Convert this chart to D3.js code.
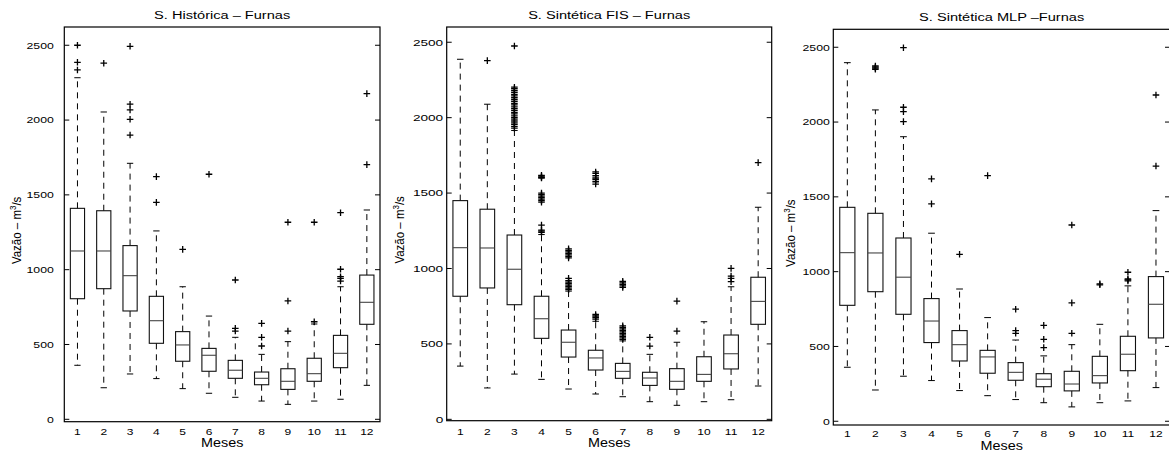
<!DOCTYPE html>
<html><head><meta charset="utf-8">
<script src="https://cdn.jsdelivr.net/npm/d3@7"></script>
<style>
html,body{margin:0;padding:0;background:#fff;}
svg{display:block;font-family:"Liberation Sans",Arial,Helvetica,sans-serif;}
</style></head>
<body>
<svg id="chart" width="1169" height="452"></svg>
<script>
// ---------- data ----------
const months = [1,2,3,4,5,6,7,8,9,10,11,12];
const yTicks = [0,500,1000,1500,2000,2500];
const titles = ["S. Histórica – Furnas", "S. Sintética FIS – Furnas", "S. Sintética MLP –Furnas"];
const xLabel = "Meses";

// Série histórica
const histLow  = [361,211,303,272,205,174,147,122,100,122,134,227];
const histQ1   = [806,873,724,508,388,321,274,231,200,254,345,635];
const histMed  = [1125,1125,960,659,497,428,328,274,254,305,441,782];
const histQ3   = [1410,1394,1161,822,586,474,394,316,338,408,561,964];
const histHigh = [2283,2054,1711,1259,886,690,548,434,519,637,886,1399];
const histOut  = [
  [2335,2386,2500],[2380],[1900,2005,2068,2106,2493],[1450,1622],[1136],[1638],
  [590,608,931],[490,548,641],[590,791,1317],[652,1317],[924,942,953,1003,1381],[1702,2177]
];

// Série sintética FIS
const fisLow  = [353,208,300,265,201,168,150,117,93,117,130,221];
const fisQ1   = [816,871,760,537,413,327,272,225,199,252,334,630];
const fisMed  = [1138,1136,995,667,511,407,318,274,252,298,435,782];
const fisQ3   = [1450,1393,1222,816,592,458,371,312,336,415,559,942];
const fisHigh = [2387,2089,1915,1225,850,650,520,431,511,647,879,1406];
const fisOut  = [
  [],
  [2378],
  [1930,1942,1955,1965,1978,1990,2000,2012,2025,2035,2048,2060,2072,2085,2095,2108,2120,2132,2145,2155,2168,2180,2192,2202,2475],
  [1240,1248,1255,1288,1440,1450,1460,1470,1480,1490,1500,1600,1605,1612,1618],
  [860,870,880,890,900,910,920,935,1070,1080,1090,1100,1110,1120,1130],
  [665,675,685,695,1560,1575,1590,1600,1615,1630,1640],
  [530,540,550,560,570,580,590,600,610,620,875,885,895,905,915],
  [486,544],
  [585,784],
  [],
  [913,935,950,1001],
  [1702]
];

// Série sintética MLP
const mlpLow  = [361,209,301,272,205,171,145,124,96,124,136,225];
const mlpQ1   = [775,866,715,526,403,321,274,231,203,256,338,557];
const mlpMed  = [1127,1125,963,670,512,430,327,281,249,305,448,782];
const mlpQ3   = [1430,1390,1225,820,606,474,392,318,334,434,568,967];
const mlpHigh = [2397,2081,1902,1257,884,693,543,437,512,648,905,1408];
const mlpOut  = [
  [],[2353,2360,2368,2375],[2003,2070,2099,2497],[1453,1620],[1116],[1642],
  [588,606,749],[492,548,641],[588,791,1312],[912,918],[938,945,951,996],[1706,2181]
];

// ---------- layout ----------
const panels = [
  {low:histLow,q1:histQ1,med:histMed,q3:histQ3,high:histHigh,out:histOut,
   left:64.3,right:380,top:27,bottom:421.7,dom:[-16,2622],titleY:18.5,ylx:17,tickSX:1.28,tickGap:10.5,xlabY:435,mesY:447},
  {low:fisLow,q1:fisQ1,med:fisMed,q3:fisQ3,high:fisHigh,out:fisOut,
   left:446.7,right:771.7,top:27,bottom:420.7,dom:[-9,2601],titleY:18.5,ylx:400,tickSX:1.42,tickGap:3.5,xlabY:435,mesY:447},
  {low:mlpLow,q1:mlpQ1,med:mlpMed,q3:mlpQ3,high:mlpHigh,out:mlpOut,
   left:833.3,right:1170,top:29.3,bottom:425,dom:[-25,2620],titleY:20.7,ylx:791,tickSX:1.28,tickGap:3.5,xlabY:437,mesY:449.5}
];

const svg = d3.select("#chart");

function stretchedText(g, x, y, str, size, sx, anchor){
  return g.append("g").attr("transform",`translate(${x},${y}) scale(${sx},1)`)
    .append("text").attr("x",0).attr("y",0)
    .attr("font-size",size).attr("text-anchor",anchor||"middle").attr("fill","#000")
    .text(str);
}

panels.forEach((p,i)=>{
  const g = svg.append("g");
  const x = d3.scaleLinear().domain([0.5,12.5]).range([p.left,p.right]);
  const y = d3.scaleLinear().domain(p.dom).range([p.bottom,p.top]);
  const step = x(2)-x(1);
  const bw = step*0.54, cw = step*0.24;

  // y axis through d3 (labels restyled as stretched text)
  const ax = g.append("g").attr("transform",`translate(${p.left},0)`)
    .call(d3.axisLeft(y).tickValues(yTicks).tickSize(0).tickPadding(0).tickFormat(d3.format("d")));
  ax.select(".domain").remove();
  ax.selectAll(".tick text").remove();
  yTicks.forEach(v=>{
    stretchedText(g, p.left - p.tickGap, y(v)+3.4, String(v), 9.6, p.tickSX, "end");
    g.append("line").attr("x1",p.left).attr("x2",p.left+5).attr("y1",y(v)).attr("y2",y(v))
      .attr("stroke","#000").attr("stroke-width",1);
    g.append("line").attr("x1",p.right-5).attr("x2",p.right).attr("y1",y(v)).attr("y2",y(v))
      .attr("stroke","#000").attr("stroke-width",1);
  });

  // x tick labels
  months.forEach(m=>{
    stretchedText(g, x(m), p.xlabY, String(m), 9.6, 1.25, "middle");
  });

  // boxes
  months.forEach((m,j)=>{
    const cx = x(m);
    const dash = "6,5";
    g.append("line").attr("x1",cx).attr("x2",cx).attr("y1",y(p.q3[j])).attr("y2",y(p.high[j]))
      .attr("stroke","#000").attr("stroke-width",1).attr("stroke-dasharray",dash);
    g.append("line").attr("x1",cx).attr("x2",cx).attr("y1",y(p.q1[j])).attr("y2",y(p.low[j]))
      .attr("stroke","#000").attr("stroke-width",1).attr("stroke-dasharray",dash);
    [p.high[j],p.low[j]].forEach(v=>{
      g.append("line").attr("x1",cx-cw/2).attr("x2",cx+cw/2).attr("y1",y(v)).attr("y2",y(v))
        .attr("stroke","#000").attr("stroke-width",1);
    });
    g.append("rect").attr("x",cx-bw/2).attr("y",y(p.q3[j])).attr("width",bw)
      .attr("height",y(p.q1[j])-y(p.q3[j])).attr("fill","none").attr("stroke","#111").attr("stroke-width",1.1);
    g.append("line").attr("x1",cx-bw/2).attr("x2",cx+bw/2).attr("y1",y(p.med[j])).attr("y2",y(p.med[j]))
      .attr("stroke","#444").attr("stroke-width",1.1);
    p.out[j].forEach(v=>{
      const yy = y(v);
      g.append("path").attr("d",`M${cx-3.3},${yy}H${cx+3.3}M${cx},${yy-3.3}V${yy+3.3}`)
        .attr("stroke","#000").attr("stroke-width",1.3).attr("fill","none");
    });
  });

  // axes frame
  g.append("rect").attr("x",p.left).attr("y",p.top).attr("width",p.right-p.left)
    .attr("height",p.bottom-p.top).attr("fill","none").attr("stroke","#000").attr("stroke-width",1.2);

  // title
  stretchedText(g, (p.left+Math.min(p.right,1170))/2, p.titleY, titles[i], 11.5, 1.27, "middle");
  // x label
  stretchedText(g, (p.left+p.right)/2, p.mesY, xLabel, 12, 1.2, "middle");
  // y label
  const yl = g.append("g").attr("transform",`translate(${p.ylx+4},${(p.top+p.bottom)/2+6}) scale(1.15,1) rotate(-90)`)
    .append("text").attr("text-anchor","middle").attr("font-size",11.5).attr("fill","#000");
  yl.append("tspan").text("Vazão – m");
  yl.append("tspan").attr("font-size",8).attr("dy",-4.5).text("3");
  yl.append("tspan").attr("dy",4.5).text("/s");
});
</script>
</body></html>
